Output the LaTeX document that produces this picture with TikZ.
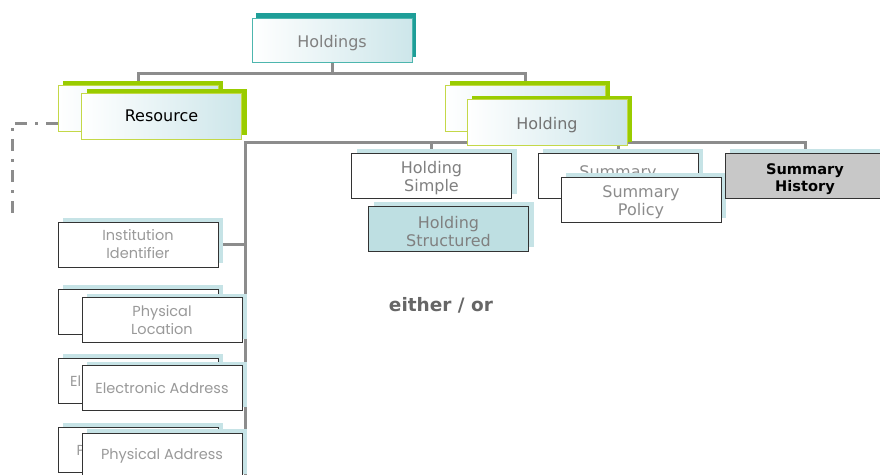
\documentclass[tikz,border=0pt]{standalone}
\usepackage{fontspec}
\setmainfont{DejaVu Sans}
\newfontfamily\gfont{Poppins}
\usetikzlibrary{shadows}
\pgfdeclarelayer{background}
\pgfsetlayers{background,main}
\newcommand{\lowerstrut}{\rule{0pt}{18pt}}
\definecolor{tealdark}{HTML}{1E9E98}
\definecolor{tealline}{HTML}{4DB6AE}
\definecolor{limebar}{HTML}{99CC00}
\definecolor{limeline}{HTML}{C4D848}
\definecolor{paleblue}{HTML}{C6E3E6}
\definecolor{gradblue}{HTML}{CDE6EA}
\definecolor{conncol}{HTML}{8C8C8C}
\definecolor{structfill}{HTML}{BEDFE2}
\definecolor{histfill}{HTML}{C8C8C8}
\begin{document}
\begin{tikzpicture}[x=1pt,y=-1pt,
  box/.style={minimum width=160pt, minimum height=45pt, inner sep=0pt, align=center,
    font=\fontsize{16}{18}\selectfont},
  lower/.style={execute at begin node={\lowerstrut}},
  tealbox/.style={box, lower, minimum height=44pt, draw=tealline, line width=0.8pt, left color=white, right color=gradblue,
    text=black!50, general shadow={fill=tealdark, shadow xshift=4pt, shadow yshift=5pt}},
  greenbox/.style={box, minimum height=46pt, draw=limeline, line width=0.8pt, left color=white, right color=gradblue,
    general shadow={fill=limebar, shadow xshift=5pt, shadow yshift=4pt}},
  whitebox/.style={box, draw=black!80, line width=1pt, fill=white, text=black!50,
    general shadow={fill=paleblue, shadow xshift=5pt, shadow yshift=4pt}},
  lowbox/.style={whitebox, text=black!40, font=\gfont\fontsize{14.5}{18}\selectfont},
  lowtext/.style={inner sep=0pt, anchor=west, text=black!40, font=\gfont\fontsize{14.5}{18}\selectfont},
  conn/.style={draw=conncol, line width=3pt},
  dashconn/.style={draw=conncol, line width=3pt, dash pattern=on 12pt off 8pt on 3pt off 8pt}
]
\useasboundingbox (0,0) rectangle (880,474);

% top
\node[tealbox] (holdings) at (332,40) {Holdings};

% resource pair
\node[greenbox] (resback) at (138,108) {};
\node[greenbox, text=black] (resfront) at (161.5,116) {Resource};

% holding pair
\node[greenbox] (holdback) at (525,108) {};
\node[greenbox, lower, text=black!55] (holdfront) at (547,122.5) {Holding};

% holding children
\node[whitebox] (hsimple) at (431.5,175.5) {\lowerstrut Holding\\Simple};
\node[whitebox, fill=structfill] (hstruct) at (448.5,228.5) {\lowerstrut Holding\\Structured};
\node[whitebox] (summ) at (618,175.5) {};
\node[inner sep=0pt, anchor=base, text depth=0pt, text=black!45, font=\fontsize{16}{18}\selectfont] (summt) at (618,177) {Summary};
\node[whitebox, text=black!45] (spolicy) at (641,199.5) {\lowerstrut Summary\\Policy};
\node[whitebox, fill=histfill, text=black, font=\bfseries\fontsize{14.6}{17}\selectfont] (shist) at (805,175.5) {\lowerstrut Summary\\History};

% resource children
\node[lowbox] (inst) at (138,244.5) {Institution\\Identifier};
\node[lowbox] (plocb) at (138,311.5) {};
\node[lowbox] (plocf) at (162,320) {Physical\\Location};
\node[lowbox] (eaddrb) at (138,380.5) {};
\node[lowtext] (eaddrbt) at (70,381) {El};
\node[lowbox] (eaddrf) at (162,388) {Electronic Address};
\node[lowbox] (paddrb) at (138,449.5) {};
\node[lowtext] (paddrbt) at (76.5,450) {P};
\node[lowbox] (paddrf) at (162,455.5) {Physical Address};

\node[font=\bfseries\fontsize{18.5}{20}\selectfont, text=black!60] (either) at (441,305) {either / or};

% connectors
\coordinate (j1) at (332,73);
\coordinate (j2) at (245,142);
\coordinate (jend) at (245,476);
\coordinate (dcorner) at (12,123);
\coordinate (dend) at (12,214);
\begin{pgfonlayer}{background}
  \draw[conn] (holdings.south) -- (j1);
  \draw[conn] (resback.north) |- (j1) -| (holdback.north);
  \draw[conn] (jend) -- (j2) -| (shist.north);
  \draw[conn] (hsimple.north) -- (hsimple.north |- j2);
  \draw[conn] (summ.north) -- (summ.north |- j2);
  \draw[conn] (inst.east) -- (inst.east -| j2);
  \draw[dashconn] (resback.west |- dcorner) -- (dcorner) -- (dend);
\end{pgfonlayer}
\end{tikzpicture}
\end{document}
